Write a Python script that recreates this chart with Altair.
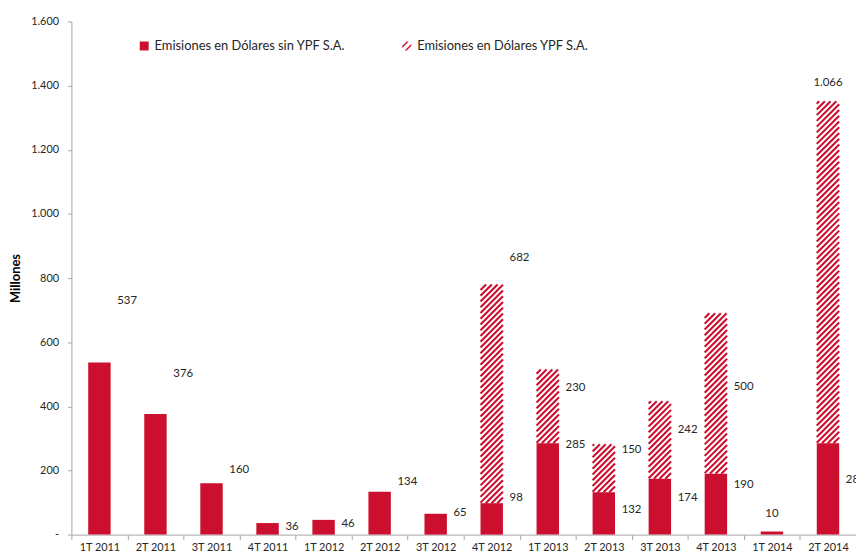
import altair as alt
import pandas as pd

# ---------------- data ----------------
categories = ["1T 2011", "2T 2011", "3T 2011", "4T 2011", "1T 2012", "2T 2012", "3T 2012",
              "4T 2012", "1T 2013", "2T 2013", "3T 2013", "4T 2013", "1T 2014", "2T 2014"]
sin_ypf = [537, 376, 160, 36, 46, 134, 65, 98, 285, 132, 174, 190, 10, 285]
con_ypf = [0, 0, 0, 0, 0, 0, 0, 682, 230, 150, 242, 500, 0, 1066]
# where each value label sits, in the axis unit (millones)
label_at_sin = [727, 501, 201, 25, 34, 164, 68, 115, 278, 77, 115, 155, 65, 170]
label_at_ypf = [None, None, None, None, None, None, None, 863, 458, 263, 325, 461, None, 1407]
centered_labels = [("1T 2014", "sin"), ("2T 2014", "ypf")]
series_names = ["Emisiones en Dólares sin YPF S.A.", "Emisiones en Dólares YPF S.A."]
y_ticks = [0, 200, 400, 600, 800, 1000, 1200, 1400, 1600]

# ---------------- style constants ----------------
RED = "#CC0E2F"
TXT = "#262626"
AX = "#A6A6A6"
FONT = "Lato"
W, H = 792, 518
YMAX = 1600
BAR_FRAC = 0.4
HATCH_STEP_PX = 5.8

n = len(categories)
slot_px = W / n
ppu = H / YMAX
rise = BAR_FRAC * slot_px / ppu      # 45 degree stripes across the bar width
step = HATCH_STEP_PX / ppu


def es_fmt(v):
    return f"{v:,}".replace(",", ".")


# solid bars
bars_df = pd.DataFrame({"cat": categories, "v": sin_ypf})

# hatch stripes of the YPF segment (derived from the data above)
rows = []
for i, (c, base, extra) in enumerate(zip(categories, sin_ypf, con_ypf)):
    if extra <= 0:
        continue
    y0, y1 = base, base + extra
    xl, xr = i - BAR_FRAC / 2, i + BAR_FRAC / 2
    b = y0 - rise
    while b < y1:
        t_lo = max(0.0, (y0 - b) / rise)
        t_hi = min(1.0, (y1 - b) / rise)
        if t_hi > t_lo:
            rows.append({
                "hx1": xl + t_lo * (xr - xl), "hx2": xl + t_hi * (xr - xl),
                "hy1": b + t_lo * rise, "hy2": b + t_hi * rise,
            })
        b += step
hatch_df = pd.DataFrame(rows)

# value labels
lab_rows = []
for c, v, ly in zip(categories, sin_ypf, label_at_sin):
    lab_rows.append({"cat": c, "serie": "sin", "txt": es_fmt(v), "ly": ly,
                     "center": (c, "sin") in centered_labels})
for c, v, ly in zip(categories, con_ypf, label_at_ypf):
    if v > 0:
        lab_rows.append({"cat": c, "serie": "ypf", "txt": es_fmt(v), "ly": ly,
                         "center": (c, "ypf") in centered_labels})
labels_df = pd.DataFrame(lab_rows)

legend_df = pd.DataFrame({"serie": series_names})

# ---------------- chart ----------------
band_scale = alt.Scale(domain=categories, paddingInner=0, paddingOuter=0)
x_band = alt.X(
    "cat:N", sort=categories, title=None, scale=band_scale,
    axis=alt.Axis(labelAngle=0, tickBand="extent", tickSize=5, tickColor=AX,
                  domainColor=AX, labelFont=FONT, labelFontSize=11, labelColor=TXT,
                  labelPadding=2, grid=False),
)
y_scale = alt.Scale(domain=[0, YMAX], nice=False, zero=True)
y_axis = alt.Axis(values=y_ticks, title="Millones", titleFont=FONT, titleFontSize=13,
                  titleFontWeight="bold", titleColor="#000000", titlePadding=8,
                  labelExpr="datum.value == 0 ? '-' : replace(format(datum.value, ','), ',', '.')",
                  labelFont=FONT, labelFontSize=11, labelColor=TXT, labelPadding=9,
                  tickSize=4, tickColor=AX, domainColor=AX, grid=False)

bars = alt.Chart(bars_df).mark_bar(color=RED, width=alt.RelativeBandSize(BAR_FRAC)).encode(
    x=x_band,
    y=alt.Y("v:Q", scale=y_scale, axis=y_axis),
)

hatch = alt.Chart(hatch_df).mark_rule(color=RED, strokeWidth=2.1, strokeCap="butt").encode(
    x=alt.X("hx1:Q", scale=alt.Scale(domain=[-0.5, n - 0.5], nice=False, zero=False), axis=None),
    x2="hx2:Q",
    y=alt.Y("hy1:Q", scale=y_scale),
    y2="hy2:Q",
)

text_right = alt.Chart(labels_df).transform_filter("!datum.center").mark_text(
    align="left", baseline="middle", dx=18, font=FONT, fontSize=11.5, color=TXT
).encode(x=alt.X("cat:N", sort=categories, scale=band_scale),
         y=alt.Y("ly:Q", scale=y_scale), text="txt:N")

text_center = alt.Chart(labels_df).transform_filter("datum.center").mark_text(
    align="center", baseline="middle", font=FONT, fontSize=11.5, color=TXT
).encode(x=alt.X("cat:N", sort=categories, scale=band_scale),
         y=alt.Y("ly:Q", scale=y_scale), text="txt:N")

hatch_symbol = "M-1,0 L0,-1 L0.45,-1 L-1,0.45 Z M-0.45,1 L1,-0.45 L1,0 L0,1 Z"
leg = dict(title=None, orient="none", legendX=67, legendY=18, direction="horizontal",
           columnPadding=55, symbolSize=81, labelFont=FONT, labelFontSize=13,
           labelColor=TXT, labelLimit=0, labelOffset=4, symbolStrokeWidth=0,
           symbolOpacity=1)
legend_pts = alt.Chart(legend_df).transform_filter("false").mark_point(filled=True).encode(
    color=alt.Color("serie:N", scale=alt.Scale(domain=series_names, range=[RED, RED]),
                    legend=alt.Legend(**leg)),
    shape=alt.Shape("serie:N", scale=alt.Scale(domain=series_names, range=["square", hatch_symbol]),
                    legend=alt.Legend(**leg)),
)

band_layers = alt.layer(bars, text_right, text_center, legend_pts)

chart = alt.layer(band_layers, hatch).resolve_scale(
    x="independent"
).properties(
    width=W, height=H,
    autosize=alt.AutoSizeParams(type="none"),
    padding={"left": 64, "top": 11, "right": 0, "bottom": 20},
).configure_view(stroke=None)

chart.save("out.html", embed_options={"renderer": "svg", "actions": False})
